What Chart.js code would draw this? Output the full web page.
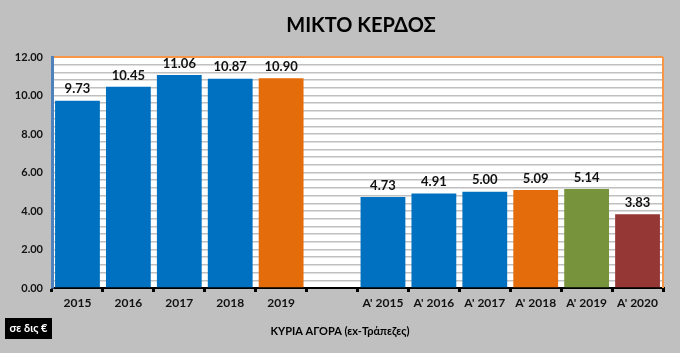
<!DOCTYPE html>
<html>
<head>
<meta charset="utf-8">
<script src="https://cdn.jsdelivr.net/npm/chart.js@4"></script>
<style>
  html, body { margin: 0; padding: 0; background: #c0c0c0; }
  #wrap { width: 680px; height: 353px; }
</style>
</head>
<body>
<div id="wrap"><canvas id="profitChart" width="680" height="353"></canvas></div>
<script>
// categories (empty slot = gap between the two groups)
const years = ["2015", "2016", "2017", "2018", "2019", "", "Α' 2015", "Α' 2016", "Α' 2017", "Α' 2018", "Α' 2019", "Α' 2020"];
const profit = [9.73, 10.45, 11.06, 10.87, 10.90, null, 4.73, 4.91, 5.00, 5.09, 5.14, 3.83];
const yTicks = [0, 2, 4, 6, 8, 10, 12];

const BLUE = "#0070c0", ORANGE = "#e46c0a", GREEN = "#77933c", RED = "#953735";
const barColors = [BLUE, BLUE, BLUE, BLUE, ORANGE, BLUE, BLUE, BLUE, BLUE, ORANGE, GREEN, RED];

const FONT = "Lato, 'Open Sans', sans-serif";

// background, title, labels, extra texts
const decorPlugin = {
  id: "decor",
  beforeDraw(chart) {
    const { ctx, chartArea: a, width, height } = chart;
    ctx.save();
    ctx.fillStyle = "#c0c0c0";
    ctx.fillRect(0, 0, width, height);
    ctx.fillStyle = "#ffffff";
    ctx.fillRect(a.left, a.top, a.right - a.left, a.bottom - a.top);
    ctx.restore();
  },
  afterDatasetsDraw(chart) {
    const { ctx } = chart;
    const meta = chart.getDatasetMeta(0);
    ctx.save();
    ctx.font = "bold 13px " + FONT;
    ctx.fillStyle = "#111";
    ctx.textAlign = "center";
    ctx.textBaseline = "bottom";
    meta.data.forEach((bar, i) => {
      if (profit[i] == null) return;
      ctx.fillText(profit[i].toFixed(2), bar.x, bar.y - 5);
    });
    ctx.restore();
  },
  afterDraw(chart) {
    const { ctx, chartArea: a } = chart;
    ctx.save();
    // orange frame on the right
    ctx.strokeStyle = "#f79646";
    ctx.lineWidth = 2;
    ctx.beginPath();
    ctx.moveTo(a.right, a.top);
    ctx.lineTo(a.right, a.bottom);
    ctx.stroke();

    // title
    ctx.fillStyle = "#000";
    ctx.font = "bold 20px " + FONT;
    ctx.textAlign = "center";
    ctx.textBaseline = "middle";
    ctx.fillText("ΜΙΚΤΟ ΚΕΡΔΟΣ", 361, 26);

    // axis caption
    ctx.font = "bold 11px " + FONT;
    ctx.fillText("ΚΥΡΙΑ ΑΓΟΡΑ (εх-Τράπεζες)", 340, 331);

    // unit box
    ctx.fillStyle = "#000";
    ctx.fillRect(5, 318, 47, 21);
    ctx.fillStyle = "#fff";
    ctx.font = "bold 11px " + FONT;
    ctx.fillText("σε δις €", 28.5, 328.5);
    ctx.restore();
  }
};

new Chart(document.getElementById("profitChart"), {
  type: "bar",
  data: {
    labels: years,
    datasets: [{
      data: profit,
      backgroundColor: barColors,
      barPercentage: 0.88,
      categoryPercentage: 1.0
    }]
  },
  options: {
    responsive: false,
    animation: false,
    layout: { padding: { left: 0, right: 17, top: 57, bottom: 0 } },
    plugins: {
      legend: { display: false },
      tooltip: { enabled: false }
    },
    scales: {
      x: {
        offset: true,
        afterFit(scale) { scale.height = 65; },
        grid: {
          display: true,
          drawOnChartArea: false,
          drawTicks: true,
          tickLength: 4,
          offset: true,
          color: "#000",
          lineWidth: 3
        },
        border: { display: true, color: "#000", width: 2 },
        ticks: {
          color: "#111",
          font: { family: FONT, weight: "bold", size: 12 },
          padding: 4,
          maxRotation: 0,
          autoSkip: false
        }
      },
      y: {
        min: 0,
        max: 12,
        afterFit(scale) { scale.width = 52; },
        afterBuildTicks(scale) {
          // minor gridlines every 0.4, labels only at yTicks
          const t = [];
          for (let k = 0; k <= 30; k++) t.push({ value: +(k * 0.4).toFixed(1) });
          scale.ticks = t;
        },
        grid: {
          drawTicks: false,
          color(c) {
            if (c.tick.value === 12) return "#f79646";
            if (c.tick.value === 0) return "rgba(0,0,0,0)";
            return "#c0c0c0";
          },
          lineWidth(c) { return c.tick.value === 12 ? 2 : 1.5; }
        },
        border: { display: true, color: "#4f81bd", width: 3 },
        ticks: {
          color: "#111",
          font: { family: FONT, weight: "bold", size: 11 },
          padding: 9,
          autoSkip: false,
          callback(v) {
            return yTicks.some(t => Math.abs(t - v) < 1e-6) ? v.toFixed(2) : "";
          }
        }
      }
    }
  },
  plugins: [decorPlugin]
});
</script>
</body>
</html>
